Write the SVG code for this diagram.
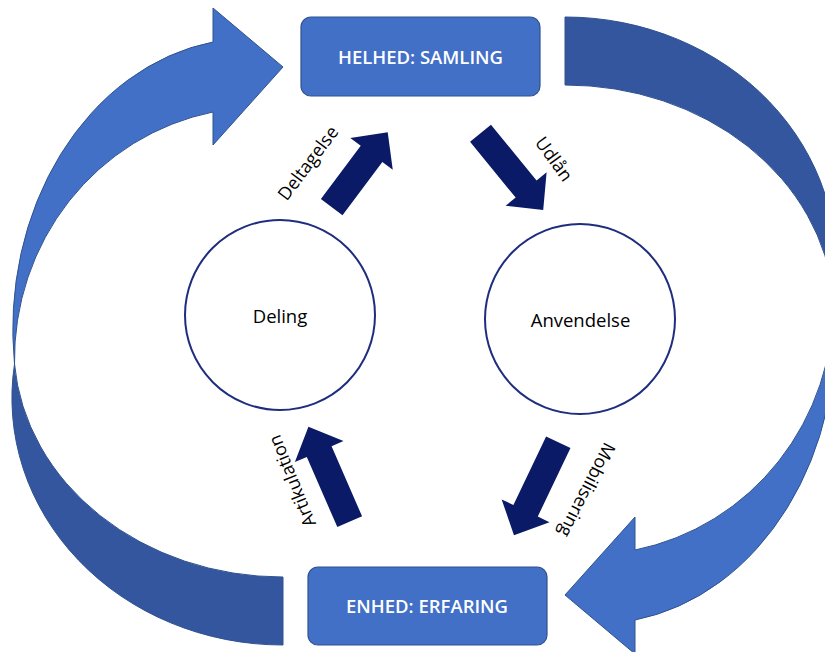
<svg xmlns="http://www.w3.org/2000/svg" xmlns:xlink="http://www.w3.org/1999/xlink" width="825" height="652" viewBox="0 0 825 652">
  <style>
    .light { fill: #4270C6; stroke: #2F528F; stroke-width: 1; }
    .dark { fill: #34569F; stroke: #2F528F; stroke-width: 1; }
    .box { fill: #4270C6; stroke: #2F528F; stroke-width: 1.2; }
    .boxtxt { font-family: "Open Sans", "Liberation Sans", sans-serif; font-size: 18.5px; font-weight: 600; fill: #FFFFFF; text-anchor: middle; }
    .circ { fill: #FFFFFF; stroke: #1E2D7D; stroke-width: 2; }
    .ctxt { font-family: "Open Sans", "Liberation Sans", sans-serif; font-size: 18.5px; fill: #000000; text-anchor: middle; }
    .navy { fill: #0A1A66; }
    .lbl { font-family: "Open Sans", "Liberation Sans", sans-serif; font-size: 18px; fill: #000000; text-anchor: middle; }
  </style>
  <defs>
    <g id="bigArrow">
      <path class="dark" d="M 14.5,364 A 271 247 0 0 0 283 645 L 283 577 A 269 231 0 0 1 14.5 364 Z"/>
      <path class="light" d="M 14.5,364 A 238 291 0 0 1 213 42 L 213 8 L 283 67 L 213 145 L 213 112 A 246 252.5 0 0 0 14.5 364 Z"/>
    </g>
  </defs>
  <rect width="825" height="652" fill="#FFFFFF"/>
  <g id="connectors">
    <use xlink:href="#bigArrow" href="#bigArrow"/>
    <use xlink:href="#bigArrow" href="#bigArrow" transform="rotate(180 424 331)"/>
    <path class="navy" transform="translate(331.7,207.2) rotate(-53.2)" d="M0,-13.5 H66.5 V-26.5 L93.5,0 L66.5,26.5 V13.5 H0 Z"/>
    <path class="navy" transform="translate(480.5,133.3) rotate(50.7)" d="M0,-13.5 H72 V-26.5 L99,0 L72,26.5 V13.5 H0 Z"/>
    <path class="navy" transform="translate(349.7,521.7) rotate(-113.5)" d="M0,-13.5 H76.5 V-26.5 L103.5,0 L76.5,26.5 V13.5 H0 Z"/>
    <path class="navy" transform="translate(558.3,442.2) rotate(115.5)" d="M0,-13.5 H76 V-26.5 L103,0 L76,26.5 V13.5 H0 Z"/>
    <text class="lbl" transform="translate(308,163) rotate(-53)" y="6.3">Deltagelse</text>
    <text class="lbl" transform="translate(554,159) rotate(54)" y="6.3">Udlån</text>
    <text class="lbl" transform="translate(292,481) rotate(-112)" y="6.3">Artikulation</text>
    <text class="lbl" transform="translate(587,490) rotate(117)" y="6.3">Mobilisering</text>
  </g>
  <g id="helhed">
    <rect class="box" x="301" y="17" width="239" height="79" rx="10"/>
    <text class="boxtxt" x="420.5" y="64">HELHED: SAMLING</text>
  </g>
  <g id="enhed">
    <rect class="box" x="308" y="567" width="239" height="78" rx="10"/>
    <text class="boxtxt" x="427" y="613">ENHED: ERFARING</text>
  </g>
  <g id="deling">
    <circle class="circ" cx="280" cy="315" r="95"/>
    <text class="ctxt" x="280" y="323">Deling</text>
  </g>
  <g id="anvendelse">
    <circle class="circ" cx="580" cy="319" r="95"/>
    <text class="ctxt" x="580.5" y="327">Anvendelse</text>
  </g>
</svg>
